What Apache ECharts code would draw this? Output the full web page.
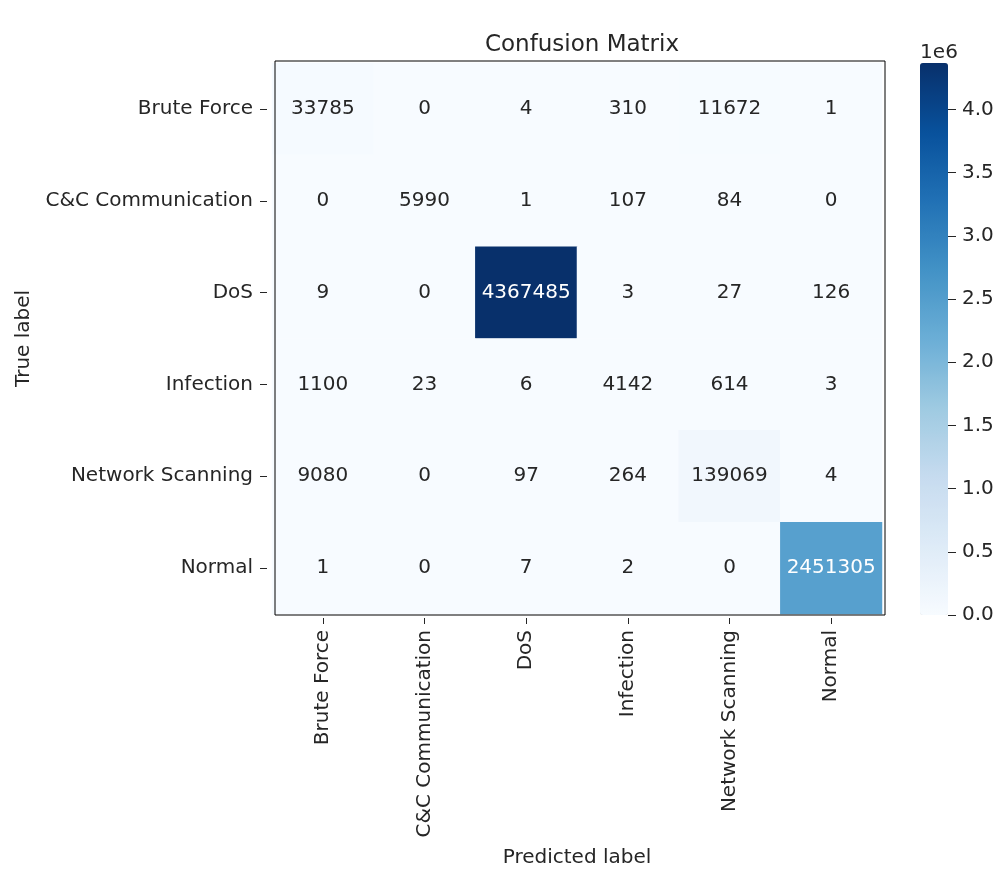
<!DOCTYPE html>
<html>
<head>
<meta charset="utf-8">
<script src="https://cdn.jsdelivr.net/npm/echarts@6/dist/echarts.min.js"></script>
<style>
  html, body { margin: 0; padding: 0; background: #fff; }
  #chart { width: 1004px; height: 884px; }
</style>
</head>
<body>
<div id="chart"></div>
<script>
// class names, same order on both axes
const classes = ['Brute Force', 'C&C Communication', 'DoS', 'Infection', 'Network Scanning', 'Normal']

// one row per true label, columns are predicted labels
const rowBruteForce = [33785, 0, 4, 310, 11672, 1]
const rowCnC = [0, 5990, 1, 107, 84, 0]
const rowDoS = [9, 0, 4367485, 3, 27, 126]
const rowInfection = [1100, 23, 6, 4142, 614, 3]
const rowNetworkScanning = [9080, 0, 97, 264, 139069, 4]
const rowNormal = [1, 0, 7, 2, 0, 2451305]

// colorbar ticks, in units of 1e6
const colorbarTicks = [0, 0.5, 1, 1.5, 2, 2.5, 3, 3.5, 4]

const rows = [rowBruteForce, rowCnC, rowDoS, rowInfection, rowNetworkScanning, rowNormal]
const maxVal = Math.max(...rows.flat())

const blues = ['#f7fbff', '#deebf7', '#c6dbef', '#9ecae1', '#6baed6', '#4292c6', '#2171b5', '#08519c', '#08306b']
const font = 'DejaVu Sans'
const ink = '#262626'

const cells = []
rows.forEach((row, y) => {
  row.forEach((v, x) => {
    cells.push({
      value: [x, y, v],
      label: { color: v > maxVal / 2 ? '#ffffff' : ink }
    })
  })
})

const chart = echarts.init(document.getElementById('chart'))

chart.setOption({
  animation: false,
  backgroundColor: '#fff',
  textStyle: { fontFamily: font },
  title: [
    {
      text: 'Confusion Matrix',
      left: 577,
      top: 29,
      textAlign: 'center',
      textStyle: { fontFamily: font, fontSize: 23, fontWeight: 'normal', color: ink }
    },
    {
      text: '1e6',
      left: 934,
      top: 38,
      textAlign: 'center',
      textStyle: { fontFamily: font, fontSize: 20, fontWeight: 'normal', color: ink }
    }
  ],
  grid: [
    // heatmap area
    { left: 272, right: 122, top: 63, bottom: 270, outerBoundsMode: 'none' },
    // colorbar tick axis, sits on the right edge of the bar
    { left: 948, width: 1, top: 63, bottom: 269, outerBoundsMode: 'none' },
    // black frame around the matrix
    {
      left: 275, right: 119, top: 61, bottom: 269, outerBoundsMode: 'none',
      show: true, z: 10, backgroundColor: 'transparent',
      borderColor: '#000', borderWidth: 1
    }
  ],
  xAxis: [
    {
      type: 'category',
      gridIndex: 0,
      data: classes,
      offset: 4,
      name: 'Predicted label',
      nameLocation: 'middle',
      nameGap: 230,
      nameTextStyle: { fontFamily: font, fontSize: 20, color: ink },
      axisLine: { show: false },
      axisTick: { show: true, alignWithLabel: true, length: 6, lineStyle: { color: ink } },
      axisLabel: { rotate: 90, fontSize: 20, color: ink, margin: 12, interval: 0 },
      splitLine: { show: false }
    },
    { type: 'value', gridIndex: 1, show: false, min: 0, max: 1 },
    { type: 'value', gridIndex: 2, show: false, min: 0, max: 1 }
  ],
  yAxis: [
    {
      type: 'category',
      gridIndex: 0,
      data: classes,
      inverse: true,
      offset: 5,
      name: 'True label',
      nameLocation: 'middle',
      nameGap: 233,
      nameRotate: 90,
      nameTextStyle: { fontFamily: font, fontSize: 20, color: ink },
      axisLine: { show: false },
      axisTick: { show: true, alignWithLabel: true, length: 7, lineStyle: { color: ink } },
      axisLabel: { fontSize: 20, color: ink, margin: 14, interval: 0 },
      splitLine: { show: false }
    },
    {
      type: 'value',
      gridIndex: 1,
      position: 'left',
      min: 0,
      max: maxVal / 1e6,
      interval: 0.5,
      axisLine: { show: false },
      axisTick: { show: true, inside: true, length: 8, lineStyle: { color: ink },
        customValues: colorbarTicks },
      axisLabel: { inside: true, fontSize: 20, color: ink, margin: 14,
        customValues: colorbarTicks,
        formatter: v => v.toFixed(1) },
      splitLine: { show: false }
    },
    { type: 'value', gridIndex: 2, show: false, min: 0, max: 1 }
  ],
  visualMap: {
    type: 'continuous',
    min: 0,
    max: maxVal,
    calculable: false,
    seriesIndex: 0,
    left: 920,
    top: 63,
    padding: 0,
    itemWidth: 28,
    itemHeight: 552,
    text: null,
    hoverLink: false,
    inRange: { color: blues }
  },
  series: [
    {
      type: 'heatmap',
      xAxisIndex: 0,
      yAxisIndex: 0,
      data: cells,
      label: {
        show: true,
        fontFamily: font,
        fontSize: 20,
        formatter: p => String(p.value[2])
      },
      emphasis: { disabled: true }
    }
  ]
})
</script>
</body>
</html>
